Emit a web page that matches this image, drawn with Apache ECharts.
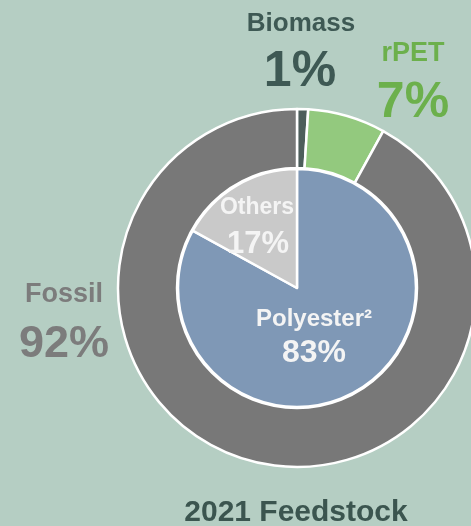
<!DOCTYPE html>
<html>
<head>
<meta charset="utf-8">
<style>
  html, body { margin: 0; padding: 0; background: #b5cec3; }
  #chart { width: 471px; height: 526px; }
</style>
<script src="https://cdn.jsdelivr.net/npm/echarts@6/dist/echarts.min.js"></script>
</head>
<body>
<div id="chart"></div>
<script>
// Outer ring: feedstock source shares (clockwise from 12 o'clock)
const feedstockNames = ['Biomass', 'rPET', 'Fossil'];
const feedstockValues = [1, 7, 92];
const feedstockColors = ['#4d5e5b', '#93c97e', '#787878'];
const feedstockLabelColors = ['#3e5954', '#6cb04c', '#7c7c7c'];

// Inner pie: material split
const materialNames = ['Polyester²', 'Others'];
const materialValues = [83, 17];
const materialColors = ['#7f98b6', '#c9c9c9'];

const titleText = '2021 Feedstock';

const FONT = '"Liberation Sans", Arial, sans-serif';
const CX = 297, CY = 288;

const chart = echarts.init(document.getElementById('chart'), null, { renderer: 'canvas' });

function textEl(text, x, y, size, color) {
  return {
    type: 'text',
    x: x, y: y,
    z: 100,
    silent: true,
    style: {
      text: text,
      fill: color,
      font: 'bold ' + size + 'px ' + FONT,
      textAlign: 'center',
      textVerticalAlign: 'middle'
    }
  };
}

const pct = v => v + '%';

// Label placements: [name x, name y, name size, value x, value y, value size]
const feedstockLabelPos = [
  [301, 24, 26, 300, 72, 50],
  [413, 54, 27, 413, 103, 50],
  [64, 295, 27, 64, 345, 45]
];
const materialLabelPos = [
  [314, 319, 24, 314, 353, 32],
  [257, 208, 23, 258, 244, 31]
];

const graphics = [];
feedstockNames.forEach((n, i) => {
  const p = feedstockLabelPos[i];
  graphics.push(textEl(n, p[0], p[1], p[2], feedstockLabelColors[i]));
  graphics.push(textEl(pct(feedstockValues[i]), p[3], p[4], p[5], feedstockLabelColors[i]));
});
materialNames.forEach((n, i) => {
  const p = materialLabelPos[i];
  graphics.push(textEl(n, p[0], p[1], p[2], '#f4f4f4'));
  graphics.push(textEl(pct(materialValues[i]), p[3], p[4], p[5], '#f4f4f4'));
});
graphics.push(textEl(titleText, 296, 513, 30, '#3b554f'));

chart.setOption({
  backgroundColor: '#b5cec3',
  animation: false,
  graphic: { elements: graphics },
  series: [
    {
      type: 'pie',
      z: 1,
      center: [CX, CY],
      radius: [0, 119],
      startAngle: 90,
      clockwise: true,
      silent: true,
      label: { show: false },
      labelLine: { show: false },
      itemStyle: { borderColor: '#ffffff', borderWidth: 2.5 },
      data: materialNames.map((n, i) => ({
        name: n, value: materialValues[i], itemStyle: { color: materialColors[i] }
      }))
    },
    {
      type: 'pie',
      z: 1,
      center: [CX, CY],
      radius: [120, 179],
      startAngle: 90,
      clockwise: true,
      silent: true,
      label: { show: false },
      labelLine: { show: false },
      itemStyle: { borderColor: '#ffffff', borderWidth: 2.5 },
      data: feedstockNames.map((n, i) => ({
        name: n, value: feedstockValues[i], itemStyle: { color: feedstockColors[i] }
      }))
    }
  ]
});
</script>
</body>
</html>
